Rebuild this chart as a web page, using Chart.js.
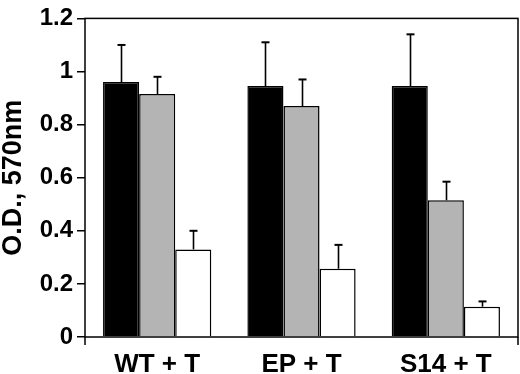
<!DOCTYPE html>
<html>
<head>
<meta charset="utf-8">
<script src="https://cdn.jsdelivr.net/npm/chart.js@4/dist/chart.umd.min.js"></script>
<style>
    html, body { margin: 0; padding: 0; background: #ffffff; }
    #wrap { width: 520px; height: 374px; }
</style>
</head>
<body>
<div id="wrap"><canvas id="odChart" width="520" height="374"></canvas></div>
<script>

const categories = ["WT + T", "EP + T", "S14 + T"];

const blackValues = [0.96, 0.945, 0.945];
const blackErrors = [0.14, 0.165, 0.195];

const grayValues = [0.915, 0.87, 0.515];
const grayErrors = [0.065, 0.10, 0.07];

const whiteValues = [0.33, 0.257, 0.114];
const whiteErrors = [0.07, 0.09, 0.02];

const yTicks = [0, 0.2, 0.4, 0.6, 0.8, 1, 1.2];

const fontFamily = "'Liberation Sans', Arial, Helvetica, sans-serif";

/* error bars drawn upward from each bar top */
const errorBars = {
    id: "errorBars",
    afterDatasetsDraw(chart) {
        const ctx = chart.ctx;
        const yScale = chart.scales.y;
        chart.data.datasets.forEach((ds, i) => {
            const meta = chart.getDatasetMeta(i);
            meta.data.forEach((bar, j) => {
                const top = yScale.getPixelForValue(ds.data[j] + ds.errors[j]);
                const x = Math.round(bar.x) + 0.5;
                ctx.save();
                ctx.strokeStyle = "#000";
                ctx.lineWidth = 1.6;
                ctx.beginPath();
                ctx.moveTo(x, bar.y);
                ctx.lineTo(x, top);
                ctx.stroke();
                ctx.lineWidth = 2;
                ctx.beginPath();
                ctx.moveTo(x - 4, top);
                ctx.lineTo(x + 4, top);
                ctx.stroke();
                ctx.restore();
            });
        });
    }
};

/* box round the plot area, with small ticks below the corners */
const frame = {
    id: "frame",
    afterDraw(chart) {
        const a = chart.chartArea;
        const ctx = chart.ctx;
        ctx.save();
        ctx.strokeStyle = "#000";
        ctx.lineWidth = 1.5;
        ctx.strokeRect(a.left, a.top, a.right - a.left, a.bottom - a.top);
        ctx.beginPath();
        ctx.moveTo(a.left, a.bottom);
        ctx.lineTo(a.left, a.bottom + 8);
        ctx.moveTo(a.right, a.bottom);
        ctx.lineTo(a.right, a.bottom + 8);
        ctx.stroke();
        ctx.restore();
    }
};

const makeSet = (label, values, errors, color) => ({
    label: label,
    data: values,
    errors: errors,
    backgroundColor: color,
    borderColor: "#000",
    borderWidth: 1.5,
    categoryPercentage: 0.75,
    barPercentage: 1.0
});

new Chart(document.getElementById("odChart").getContext("2d"), {
    type: "bar",
    data: {
        labels: categories,
        datasets: [
            makeSet("black", blackValues, blackErrors, "#000000"),
            makeSet("gray", grayValues, grayErrors, "#b4b4b4"),
            makeSet("white", whiteValues, whiteErrors, "#ffffff")
        ]
    },
    options: {
        responsive: false,
        animation: false,
        layout: {
            padding: { top: 13, right: 2, left: 0, bottom: 0 }
        },
        plugins: {
            legend: { display: false },
            tooltip: { enabled: false }
        },
        scales: {
            x: {
                grid: { display: false, drawTicks: false },
                border: { display: false },
                ticks: {
                    color: "#000",
                    padding: 12,
                    font: { family: fontFamily, size: 26, weight: "bold" }
                },
                afterFit: (scale) => { scale.height = 37; }
            },
            y: {
                min: 0,
                max: 1.2,
                afterBuildTicks: (scale) => {
                    scale.ticks = yTicks.map(v => ({ value: v }));
                },
                grid: {
                    drawOnChartArea: false,
                    drawTicks: true,
                    tickLength: 8,
                    color: "#000",
                    lineWidth: 1.5
                },
                border: { display: false },
                ticks: {
                    color: "#000",
                    padding: 4,
                    font: { family: fontFamily, size: 24, weight: "bold" },
                    callback: (v) => String(v)
                },
                title: {
                    display: true,
                    text: "O.D., 570nm",
                    color: "#000",
                    padding: { top: -3, bottom: 0 },
                    font: { family: fontFamily, size: 27, weight: "bold" }
                },
                afterFit: (scale) => { scale.width = 85; }
            }
        }
    },
    plugins: [errorBars, frame]
});

</script>
</body>
</html>
